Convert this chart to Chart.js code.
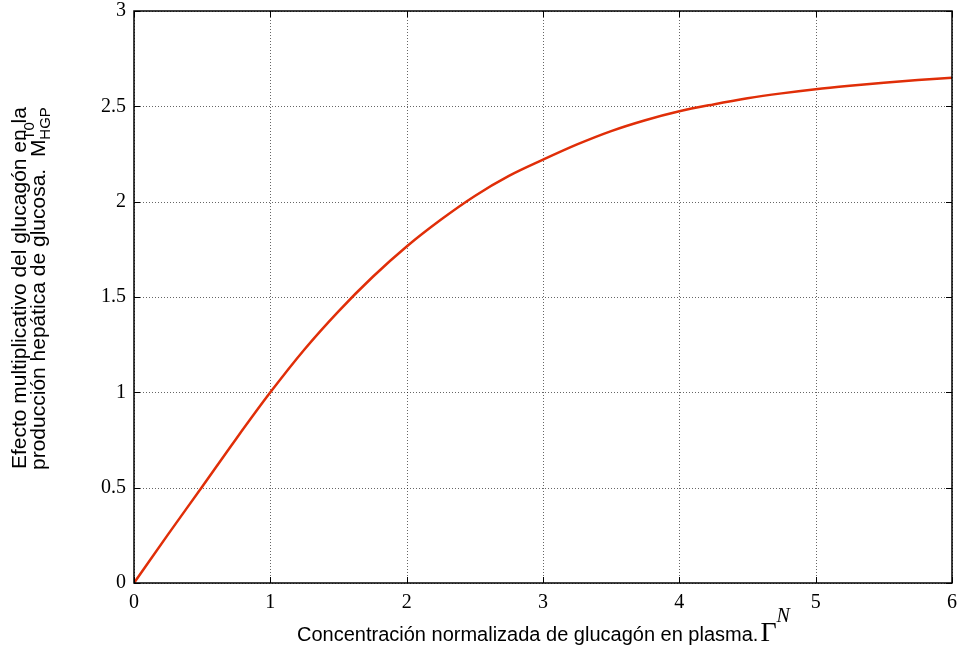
<!DOCTYPE html>
<html>
<head>
<meta charset="utf-8">
<script src="https://cdn.jsdelivr.net/npm/chart.js@4"></script>
<style>
html,body{margin:0;padding:0;background:#fff;}
#wrap{width:958px;height:646px;position:relative;}
</style>
</head>
<body>
<div id="wrap"><canvas id="c" width="958" height="646"></canvas></div>
<script>
// Data
const glucagonN = [0,0.25,0.5,0.75,1,1.25,1.5,1.75,2,2.25,2.5,2.75,3,3.25,3.5,3.75,4,4.25,4.5,4.75,5,5.25,5.5,5.75,6];
const effectM   = [0,0.255,0.505,0.757,1.0,1.225,1.425,1.605,1.765,1.905,2.03,2.135,2.22,2.30,2.37,2.427,2.474,2.51,2.542,2.568,2.59,2.608,2.624,2.638,2.65];
const xTicks = [0,1,2,3,4,5,6];
const yTicks = [0,0.5,1,1.5,2,2.5,3];
const xTitle = "Concentración normalizada de glucagón en plasma.";
const yTitle1 = "Efecto multiplicativo del glucagón en la";
const yTitle2 = "producción hepática de glucosa.  M";

const PLOT_LEFT = 134, PLOT_BOTTOM = 583;

function zeroPad(s) { s.paddingTop = 0; s.paddingBottom = 0; s.paddingLeft = 0; s.paddingRight = 0; }

const framePlugin = {
  id: 'matlabFrame',
  beforeDatasetsDraw(chart) {
    const {ctx, chartArea: a, scales: {x, y}} = chart;
    ctx.save();
    ctx.strokeStyle = 'rgba(0,0,0,0.6)';
    ctx.lineWidth = 1;
    ctx.setLineDash([1, 2]);
    xTicks.forEach(v => {
      const px = Math.round(x.getPixelForValue(v)) + 0.5;
      ctx.beginPath(); ctx.moveTo(px, a.top); ctx.lineTo(px, a.bottom); ctx.stroke();
    });
    yTicks.forEach(v => {
      const py = Math.round(y.getPixelForValue(v)) + 0.5;
      ctx.beginPath(); ctx.moveTo(a.left, py); ctx.lineTo(a.right, py); ctx.stroke();
    });
    ctx.restore();
  },
  afterDraw(chart) {
    const {ctx, chartArea: a, scales: {x, y}} = chart;
    ctx.save();
    // frame
    ctx.strokeStyle = '#000';
    ctx.lineWidth = 1.5;
    ctx.strokeRect(a.left, a.top, a.right - a.left, a.bottom - a.top);
    // inner ticks
    ctx.lineWidth = 1;
    const tl = 6;
    xTicks.forEach(v => {
      const px = Math.round(x.getPixelForValue(v)) + 0.5;
      ctx.beginPath();
      ctx.moveTo(px, a.bottom); ctx.lineTo(px, a.bottom - tl);
      ctx.moveTo(px, a.top); ctx.lineTo(px, a.top + tl);
      ctx.stroke();
    });
    yTicks.forEach(v => {
      const py = Math.round(y.getPixelForValue(v)) + 0.5;
      ctx.beginPath();
      ctx.moveTo(a.left, py); ctx.lineTo(a.left + tl, py);
      ctx.moveTo(a.right, py); ctx.lineTo(a.right - tl, py);
      ctx.stroke();
    });
    // x title
    ctx.fillStyle = '#000';
    ctx.textBaseline = 'alphabetic';
    ctx.textAlign = 'left';
    const by = 641;
    let sx = 297;
    ctx.font = '20px "Liberation Sans", Arial, sans-serif';
    ctx.fillText(xTitle, sx, by);
    sx += ctx.measureText(xTitle).width + 2;
    ctx.font = '28px "Liberation Serif", serif';
    ctx.fillText('Γ', sx, by);
    sx += ctx.measureText('Γ').width;
    ctx.font = 'italic 20px "Liberation Serif", serif';
    ctx.fillText('N', sx, by - 19);
    // y title (rotated)
    ctx.save();
    ctx.rotate(-Math.PI / 2);
    ctx.font = '21px "Liberation Sans", Arial, sans-serif';
    ctx.fillText(yTitle1, -469, 26);
    ctx.fillText(yTitle2, -470, 45);
    const w2 = ctx.measureText(yTitle2).width;
    ctx.font = '15px "Liberation Sans", Arial, sans-serif';
    ctx.fillText('T0', -470 + w2, 34);
    ctx.fillText('HGP', -470 + w2, 50);
    ctx.restore();
    ctx.restore();
  }
};

new Chart(document.getElementById('c'), {
  type: 'line',
  data: {
    datasets: [{
      data: glucagonN.map((v, i) => ({x: v, y: effectM[i]})),
      borderColor: 'rgb(224,46,8)',
      borderWidth: 2.5,
      pointRadius: 0,
      cubicInterpolationMode: 'monotone',
      fill: false
    }]
  },
  options: {
    responsive: false,
    animation: false,
    devicePixelRatio: 1,
    layout: {padding: {top: 11, right: 6, left: 0, bottom: 0}},
    plugins: {legend: {display: false}, tooltip: {enabled: false}},
    scales: {
      x: {
        type: 'linear', min: 0, max: 6,
        afterBuildTicks: s => { s.ticks = xTicks.map(v => ({value: v})); },
        ticks: {color: '#000', padding: 2, maxRotation: 0, callback: v => String(v),
                font: {family: '"Liberation Serif", serif', size: 20, lineHeight: 1}},
        grid: {display: false},
        border: {display: false},
        afterFit: s => { s.height = 646 - PLOT_BOTTOM; zeroPad(s); }
      },
      y: {
        type: 'linear', min: 0, max: 3,
        afterBuildTicks: s => { s.ticks = yTicks.map(v => ({value: v})); },
        ticks: {color: '#000', padding: 0, callback: v => String(v),
                font: {family: '"Liberation Serif", serif', size: 20, lineHeight: 1}},
        grid: {display: false},
        border: {display: false},
        afterFit: s => { s.width = PLOT_LEFT; zeroPad(s); }
      }
    }
  },
  plugins: [framePlugin]
});
</script>
</body>
</html>
